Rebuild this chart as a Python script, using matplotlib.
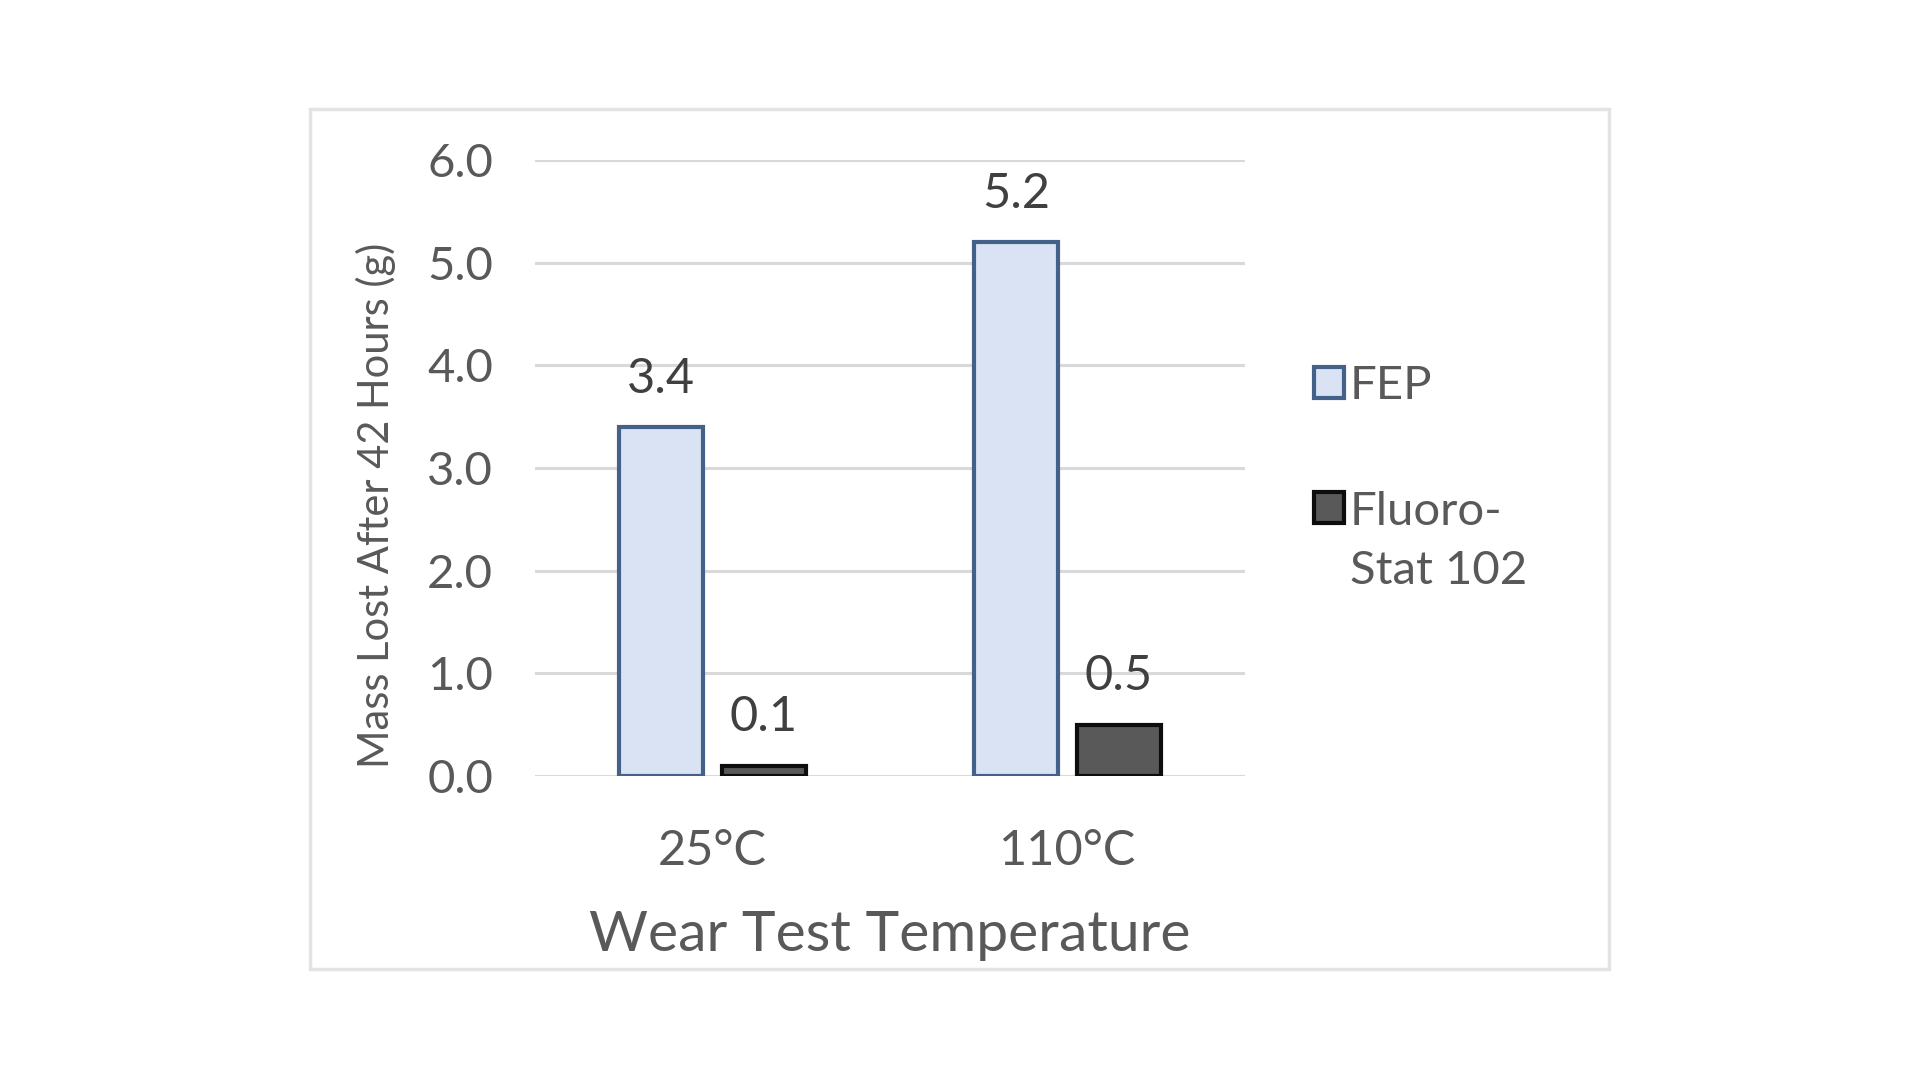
import numpy as np
import matplotlib
matplotlib.use("Agg")
import matplotlib.pyplot as plt
from matplotlib.patches import Rectangle

# data
categories = ["25°C", "110°C"]
series_names = ["FEP", "Fluoro-\nStat 102"]
fep = [3.4, 5.2]
fluoro = [0.1, 0.5]
y_ticks = [0.0, 1.0, 2.0, 3.0, 4.0, 5.0, 6.0]

plt.rcParams['font.family'] = ['Lato', 'DejaVu Sans']
text_col = '#595959'
grid_col = '#D9D9D9'

fig = plt.figure(figsize=(19.2, 10.8), dpi=100)
fig.patch.set_facecolor('white')

# light outer frame like the chart area border
fig.add_artist(Rectangle((0.1615, 0.1028), 0.6765, 0.7962, transform=fig.transFigure,
                         fill=False, edgecolor='#E3E3E3', linewidth=2.5))

ax = fig.add_axes([0.2786, 0.2815, 0.3698, 0.5704])

x = np.arange(len(categories))
w = 0.235
off = 0.145
b1 = ax.bar(x - off, fep, w, color='#DAE3F3', edgecolor='#44618A', linewidth=3, label=series_names[0], zorder=3)
b2 = ax.bar(x + off, fluoro, w, color='#595959', edgecolor='#0D0D0D', linewidth=3, label=series_names[1], zorder=3)

for bars, vals in [(b1, fep), (b2, fluoro)]:
    for r, v in zip(bars, vals):
        ax.annotate(f"{v:.1f}", (r.get_x() + r.get_width() / 2, v), xytext=(0, 19),
                    textcoords='offset points', ha='center', va='bottom',
                    fontsize=35, color='#404040')

ax.set_xlim(-0.5, 1.5)
ax.set_ylim(0, 6)
ax.set_yticks(y_ticks)
ax.set_yticklabels([f"{t:.1f}" for t in y_ticks])
ax.set_xticks(x)
ax.set_xticklabels(categories)
ax.tick_params(axis='y', length=0, pad=30, labelsize=34, labelcolor=text_col)
ax.tick_params(axis='x', length=0, pad=38, labelsize=35, labelcolor=text_col)
ax.yaxis.grid(True, color=grid_col, linewidth=2.2, zorder=0)
ax.set_axisbelow(True)
for s in ax.spines.values():
    s.set_visible(False)

ax.set_xlabel("Wear Test Temperature", fontsize=41, color=text_col, labelpad=27)
ax.set_ylabel("Mass Lost After 42 Hours (g)", fontsize=30, color=text_col)
ax.yaxis.set_label_coords(-0.196, 0.44)

leg = ax.legend(loc='upper left', bbox_to_anchor=(1.07, 0.698), frameon=False,
                fontsize=34, labelcolor=text_col, handlelength=0.65, handleheight=0.65,
                handletextpad=0.12, labelspacing=1.79, borderaxespad=0)
leg.get_texts()[1].set_linespacing(1.5)
# put the second swatch beside the first text line, as in the original
h2 = leg.legend_handles[1]
h2.set_y(h2.get_y() + 25)

fig.savefig("out.png", dpi=100, facecolor='white')
